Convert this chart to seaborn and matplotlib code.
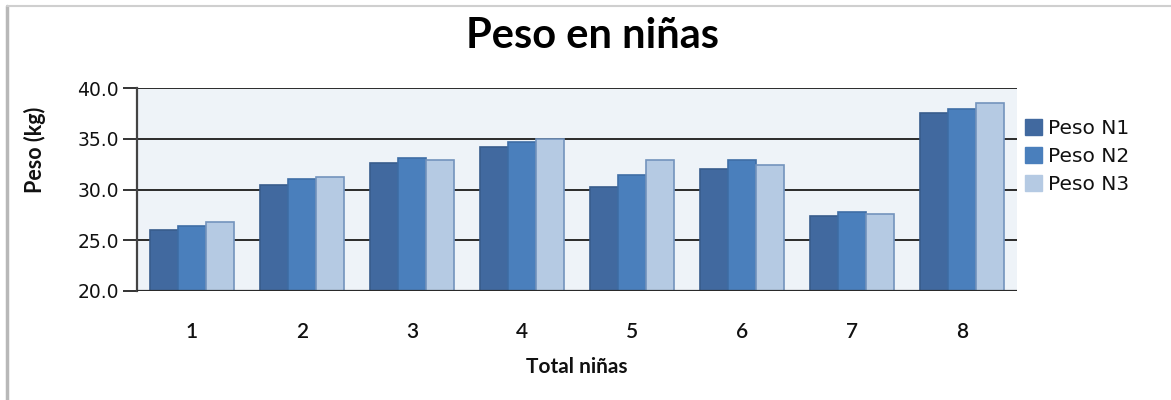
import pandas as pd
import matplotlib
matplotlib.use('Agg')
import matplotlib.pyplot as plt
import seaborn as sns
from matplotlib.lines import Line2D

# Datos
ninas = ['1', '2', '3', '4', '5', '6', '7', '8']
peso_n1 = [26.0, 30.4, 32.6, 34.2, 30.2, 32.0, 27.4, 37.5]
peso_n2 = [26.4, 31.0, 33.1, 34.7, 31.4, 32.9, 27.8, 37.9]
peso_n3 = [26.8, 31.2, 32.9, 35.0, 32.9, 32.4, 27.6, 38.5]
series = ['Peso N1', 'Peso N2', 'Peso N3']
y_ticks = [20.0, 25.0, 30.0, 35.0, 40.0]

colores = ['#41699f', '#4a7fbc', '#b5cae3']
bordes = ['#385c8c', '#3f6ea6', '#7393bd']

df = pd.DataFrame({
    'Total niñas': ninas * 3,
    'Peso': peso_n1 + peso_n2 + peso_n3,
    'Serie': [s for s in series for _ in ninas],
})

sns.set_style('white')
plt.rcParams['font.family'] = ['DejaVu Sans']

fig = plt.figure(figsize=(11.71, 4.0), dpi=100)
ax = fig.add_axes([137 / 1171, 1 - 291 / 400, 880 / 1171, 203 / 400])
ax.set_facecolor('#eef3f8')

sns.barplot(data=df, x='Total niñas', y='Peso', hue='Serie', palette=colores,
            width=0.76, gap=0, saturation=1, ax=ax, zorder=3, legend=False)

# bordes de cada serie
for cont, ec in zip(ax.containers, bordes):
    for p in cont:
        p.set_edgecolor(ec)
        p.set_linewidth(1.2)

ax.set_ylim(20, 40)
ax.set_xlim(-0.5, 7.5)
ax.set_yticks(y_ticks)
ax.set_yticklabels([f'{v:.1f}' for v in y_ticks], fontsize=13.5, color='#111111')
for v in y_ticks[1:]:
    ax.axhline(v, color='#2a2a2a', lw=1.4, zorder=1)
ax.axhline(20, color='#2a2a2a', lw=1.6, zorder=4)

for s in ['top', 'right', 'bottom']:
    ax.spines[s].set_visible(False)
ax.spines['left'].set_color('#444444')
ax.spines['left'].set_linewidth(1.6)
ax.tick_params(axis='y', length=10, width=1.4, color='#333333', pad=3, left=True)
ax.tick_params(axis='x', length=0, pad=22)
for lbl in ax.get_xticklabels():
    lbl.set_fontfamily('Lato')
    lbl.set_fontsize(15)
    lbl.set_fontweight('semibold')
    lbl.set_color('#111111')

ax.set_xlabel('')
ax.set_ylabel('')

fig.text(593 / 1171, 1 - 36 / 400, 'Peso en niñas', ha='center', va='center',
         fontsize=30, fontweight='bold', family='Lato', color='black')
fig.text(577 / 1171, 1 - 367 / 400, 'Total niñas', ha='center', va='center',
         fontsize=15, fontweight='bold', family='Lato', color='#111111')
fig.text(35 / 1171, 1 - 150 / 400, 'Peso (kg)', ha='center', va='center',
         rotation=90, fontsize=15.5, fontweight='bold', family='Lato', color='#111111')

# leyenda
handles = [plt.Rectangle((0, 0), 1, 1, facecolor=c, edgecolor=c) for c in colores]
leg = fig.legend(handles, series, loc='upper left',
                 bbox_to_anchor=(1025 / 1171, 1 - 119 / 400), frameon=False,
                 fontsize=14.5, handlelength=0.85, handleheight=0.85,
                 handletextpad=0.3, labelspacing=0.45, borderpad=0, borderaxespad=0)
for t in leg.get_texts():
    t.set_color('#111111')

# marco gris del documento
fig.add_artist(Line2D([7 / 1171, 7 / 1171], [0, 1 - 6 / 400], transform=fig.transFigure,
                      color='#b8b8b8', lw=2.5))
fig.add_artist(Line2D([7 / 1171, 1], [1 - 6 / 400, 1 - 6 / 400], transform=fig.transFigure,
                      color='#cfcfcf', lw=1.5))

fig.savefig('out.png', dpi=100)
